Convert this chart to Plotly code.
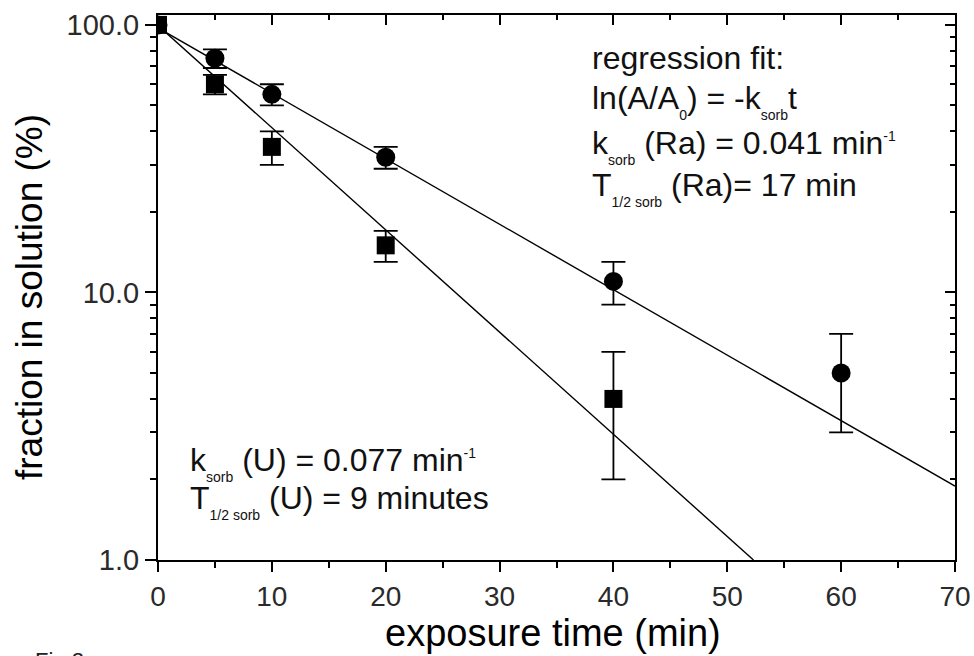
import plotly.graph_objects as go

# Measured fraction remaining in solution (%) versus exposure time (min)
time_ra = [0, 5, 10, 20, 40, 60]
frac_ra = [100, 75, 55, 32, 11, 5]
err_ra = [None, 6, 5, 3, 2, 2]

time_u = [0, 5, 10, 20, 40]
frac_u = [100, 60, 35, 15, 4]
err_u = [None, 5, 5, 2, 2]

# Regression lines (end points, straight on the log axis)
fit_ra_t = [0, 70]
fit_ra_y = [97.5, 1.89]
fit_u_t = [0, 52.3]
fit_u_y = [99.5, 1.0]

# Axis ticks
x_major = [0, 10, 20, 30, 40, 50, 60, 70]
x_minor = [5, 15, 25, 35, 45, 55, 65]
y_major = [1, 10, 100]
y_major_text = ["1.0", "10.0", "100.0"]
y_minor = [2, 3, 4, 5, 6, 7, 8, 9, 20, 30, 40, 50, 60, 70, 80, 90]

FONT = "Liberation Sans, Arial, sans-serif"
INK = "#000000"
TICK_INK = "#2a2a2a"


def with_errors(t, v, e):
    rows = [(a, b, c) for a, b, c in zip(t, v, e) if c is not None]
    return [r[0] for r in rows], [r[1] for r in rows], [r[2] for r in rows]


fig = go.Figure()

for t, v, e in ((time_ra, frac_ra, err_ra), (time_u, frac_u, err_u)):
    et, ev, ee = with_errors(t, v, e)
    fig.add_trace(go.Scatter(
        x=et, y=ev, mode="markers",
        marker=dict(size=2, color=INK),
        error_y=dict(type="data", array=ee, visible=True, color=INK,
                     thickness=1.8, width=12),
        showlegend=False, hoverinfo="skip"))

fig.add_trace(go.Scatter(x=fit_ra_t, y=fit_ra_y, mode="lines",
                         line=dict(color=INK, width=1.4), showlegend=False))
fig.add_trace(go.Scatter(x=fit_u_t, y=fit_u_y, mode="lines",
                         line=dict(color=INK, width=1.4), showlegend=False))

fig.add_trace(go.Scatter(x=time_ra, y=frac_ra, mode="markers",
                         marker=dict(symbol="circle", size=19, color=INK),
                         showlegend=False, name="Ra"))
fig.add_trace(go.Scatter(x=time_u, y=frac_u, mode="markers",
                         marker=dict(symbol="square", size=18, color=INK),
                         showlegend=False, name="U"))

# companion axes carrying the inward ticks on the top and right frame edges
fig.add_trace(go.Scatter(x=[None], y=[None], xaxis="x2", yaxis="y2",
                         mode="markers", showlegend=False, hoverinfo="skip"))

Y_RANGE = [0, 2.037]
X_RANGE = [0, 70]

common_x = dict(range=X_RANGE, tickvals=x_major, showgrid=False, zeroline=False,
                showline=True, linecolor=INK, linewidth=2, tickcolor=INK,
                tickwidth=2)
common_y = dict(type="log", range=Y_RANGE, tickvals=y_major, showgrid=False,
                zeroline=False, showline=True, linecolor=INK, linewidth=2,
                tickcolor=INK, tickwidth=2)

fig.update_layout(
    width=974, height=656,
    margin=dict(l=158, r=19, t=15, b=96, autoexpand=False),
    paper_bgcolor="white", plot_bgcolor="white",
    font=dict(family=FONT, color=INK),
    xaxis=dict(**common_x, ticks="outside", ticklen=10,
               ticktext=[str(v) for v in x_major],
               tickfont=dict(size=28, family=FONT, color=TICK_INK),
               minor=dict(tickvals=x_minor, ticks="outside", ticklen=6,
                          tickwidth=2, tickcolor=INK)),
    xaxis2=dict(**common_x, overlaying="x", side="top", anchor="y",
                ticks="inside", ticklen=10, showticklabels=False,
                minor=dict(tickvals=x_minor, ticks="inside", ticklen=5,
                           tickwidth=2, tickcolor=INK)),
    yaxis=dict(**common_y, ticks="outside", ticklen=11, ticktext=y_major_text,
               tickfont=dict(size=29, family=FONT, color=TICK_INK),
               minor=dict(tickvals=y_minor, ticks="outside", ticklen=6,
                          tickwidth=2, tickcolor=INK)),
    yaxis2=dict(**common_y, overlaying="y", side="right", anchor="x",
                ticks="inside", ticklen=10, showticklabels=False,
                minor=dict(tickvals=y_minor, ticks="inside", ticklen=5,
                           tickwidth=2, tickcolor=INK)),
)

SUB = '<sub><sub><span style="font-size:14px">{}</span></sub></sub>'
SUP = '<sup><span style="font-size:14px">{}</span></sup>'


def px_x(x):
    return (x - 158) / 797


def px_y(y):
    return (560 - y) / 545


notes = [
    (590, 38, "regression fit:"),
    (590, 78, "ln(A/A" + SUB.format("0") + ") = -k" + SUB.format("sorb") + "t"),
    (590, 123, "k" + SUB.format("sorb") + " (Ra) = 0.041 min" + SUP.format("-1")),
    (590, 165, "T" + SUB.format("1/2 sorb") + " (Ra)= 17 min"),
    (188, 440, "k" + SUB.format("sorb") + " (U) = 0.077 min" + SUP.format("-1")),
    (188, 478, "T" + SUB.format("1/2 sorb") + " (U) = 9 minutes"),
]
for x, y, txt in notes:
    fig.add_annotation(x=px_x(x), y=px_y(y), xref="paper", yref="paper",
                       xanchor="left", yanchor="top", showarrow=False,
                       text=txt, font=dict(size=32, family=FONT, color="#111"))

fig.add_annotation(x=px_x(553), y=px_y(655), xref="paper", yref="paper",
                   xanchor="center", yanchor="bottom", showarrow=False,
                   borderpad=0, text="exposure time (min)",
                   font=dict(size=38, family=FONT, color=INK))
fig.add_annotation(x=px_x(30), y=px_y(297), xref="paper", yref="paper",
                   xanchor="center", yanchor="middle", showarrow=False,
                   textangle=-90, text="fraction in solution (%)",
                   font=dict(size=37, family=FONT, color=INK))
fig.add_annotation(x=px_x(33), y=px_y(646), xref="paper", yref="paper",
                   xanchor="left", yanchor="top", showarrow=False,
                   text="Fig.2", font=dict(size=22, family=FONT, color="#222"))

fig.write_html("out.html")
